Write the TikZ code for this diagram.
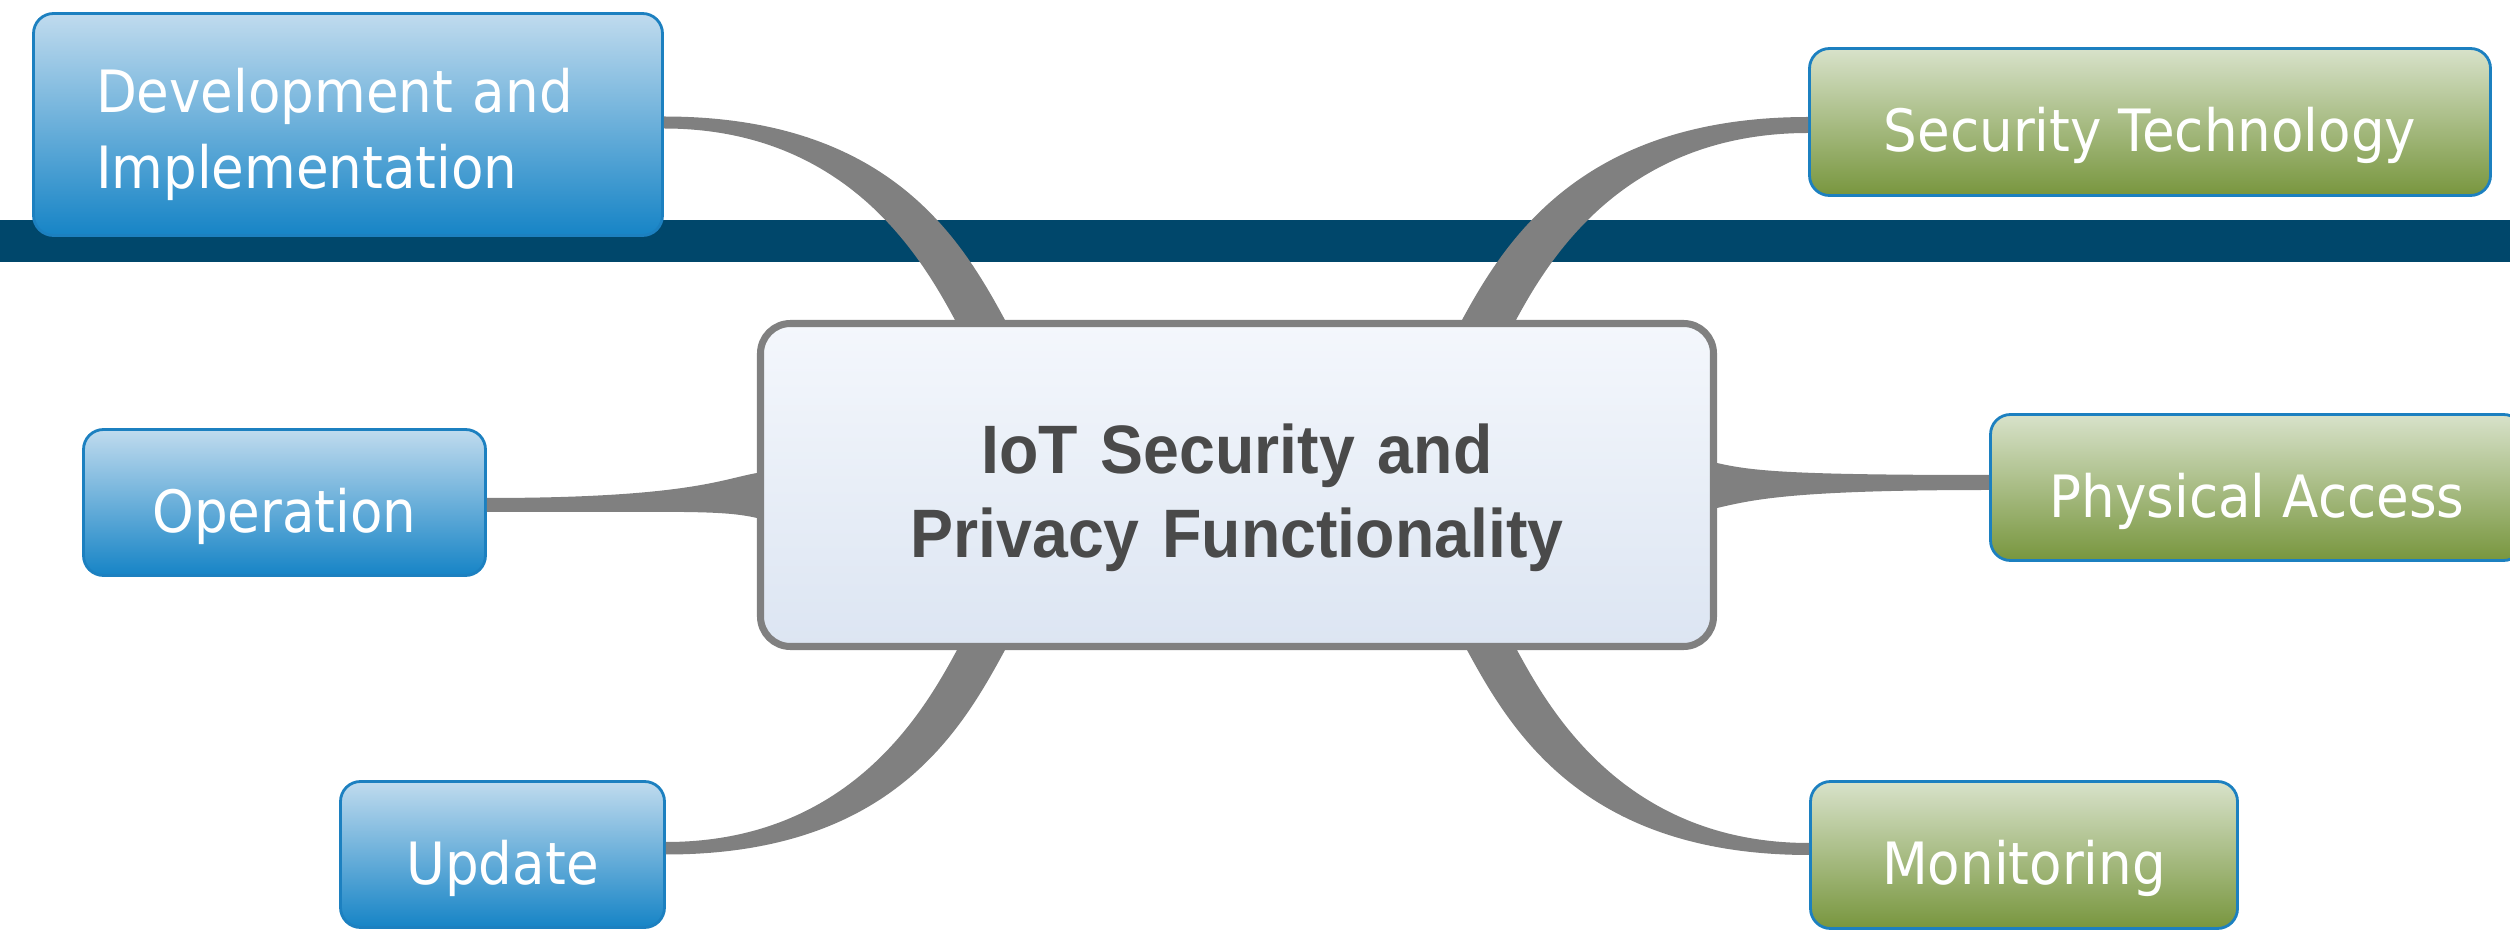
\documentclass[tikz,border=0pt]{standalone}
\usepackage{fontspec}
\newfontfamily\leaffont[FakeStretch=0.91]{DejaVu Sans}
\newfontfamily\corefont[FakeStretch=0.94]{Liberation Sans}
\definecolor{barblue}{RGB}{0,71,107}
\definecolor{blueTop}{RGB}{192,219,238}
\definecolor{blueBot}{RGB}{22,132,198}
\definecolor{greenTop}{RGB}{216,226,202}
\definecolor{greenBot}{RGB}{120,150,62}
\definecolor{leafBorder}{RGB}{28,128,192}
\definecolor{coreTop}{RGB}{244,247,252}
\definecolor{coreBot}{RGB}{220,229,242}
\definecolor{coreText}{RGB}{74,74,74}
\definecolor{branchGray}{RGB}{128,128,128}

\begin{document}
\begin{tikzpicture}[
    % Stili dei nodi
    bluebox/.style={
        rectangle, rounded corners=0.2cm,
        draw=leafBorder, line width=0.8pt,
        top color=blueTop, bottom color=blueBot,
        text=white, inner sep=0pt, text height=0.72cm,
        font=\leaffont\fontsize{16.6}{21.6}\selectfont
    },
    greenbox/.style={
        bluebox, top color=greenTop, bottom color=greenBot
    },
    corebox/.style={
        rectangle, rounded corners=0.3cm,
        draw=branchGray, line width=2pt,
        top color=coreTop, bottom color=coreBot,
        text=coreText, text width=9cm, align=center, text height=0.755cm,
        font=\corefont\bfseries\fontsize{19.5}{24.1}\selectfont
    },
    branch/.style={fill=branchGray}
]
\useasboundingbox (0,0) rectangle (25.10,9.32);

% Fascia scura
\fill[barblue] (0,6.70) rectangle (25.10,7.12);

% Nodo centrale
\node[corebox, minimum width=9.53cm, minimum height=3.23cm] (core) at (12.37,4.47)
    {IoT Security and\\Privacy Functionality};

% Rami a sinistra
\node[bluebox, minimum width=6.29cm, minimum height=2.22cm,
      text width=5.04cm, text height=0.65cm, align=left] (dev) at (3.48,8.075)
    {Development and\\Implementation};
\node[bluebox, minimum width=4.02cm, minimum height=1.46cm] (oper) at (2.845,4.295) {Operation};
\node[bluebox, minimum width=3.24cm, minimum height=1.46cm] (upd) at (5.025,0.775) {Update};

% Rami a destra
\node[greenbox, minimum width=6.81cm, minimum height=1.47cm] (sectech) at (21.50,8.10) {Security Technology};
\node[greenbox, minimum width=5.33cm, minimum height=1.46cm] (phys) at (22.57,4.445) {Physical Access};
\node[greenbox, minimum width=4.27cm, minimum height=1.47cm] (monit) at (20.24,0.77) {Monitoring};

% Connessioni
\fill[branch] ([yshift=0.08cm]dev.east) .. controls +(2.25,0) and +(-0.44,0.81) .. ([xshift=-2.32cm]core.north)
    -- ([xshift=-2.82cm]core.north) .. controls +(-0.32,0.59) and +(1.85,0) .. ([yshift=-0.04cm]dev.east) -- cycle;
\fill[branch] ([yshift=0.05cm]sectech.west) .. controls +(-2.25,0) and +(0.44,0.81) .. ([xshift=2.25cm]core.north)
    -- ([xshift=2.79cm]core.north) .. controls +(0.32,0.59) and +(-1.85,0) .. ([yshift=-0.11cm]sectech.west) -- cycle;
\fill[branch] ([yshift=0.125cm]upd.east) .. controls +(1.85,0) and +(-0.32,-0.59) .. ([xshift=-2.80cm]core.south)
    -- ([xshift=-2.32cm]core.south) .. controls +(-0.44,-0.81) and +(2.25,0) .. (upd.east) -- cycle;
\fill[branch] ([yshift=0.12cm]monit.west) .. controls +(-1.85,0) and +(0.32,-0.59) .. ([xshift=2.80cm]core.south)
    -- ([xshift=2.30cm]core.south) .. controls +(0.44,-0.81) and +(-2.25,0) .. (monit.west) -- cycle;
\fill[branch] ([yshift=0.045cm]oper.east) .. controls +(2.0,0) and +(-0.35,-0.06) .. ([yshift=0.12cm]core.west)
    -- ([yshift=-0.33cm]core.west) .. controls +(-0.35,0.08) and +(2.0,0) .. ([yshift=-0.095cm]oper.east) -- cycle;
\fill[branch] ([yshift=0.22cm]core.east) .. controls +(0.35,-0.08) and +(-2.0,0) .. ([yshift=0.125cm]phys.west)
    -- ([yshift=-0.025cm]phys.west) .. controls +(-2.0,0) and +(0.35,0.08) .. ([yshift=-0.23cm]core.east) -- cycle;

\end{tikzpicture}
\end{document}
